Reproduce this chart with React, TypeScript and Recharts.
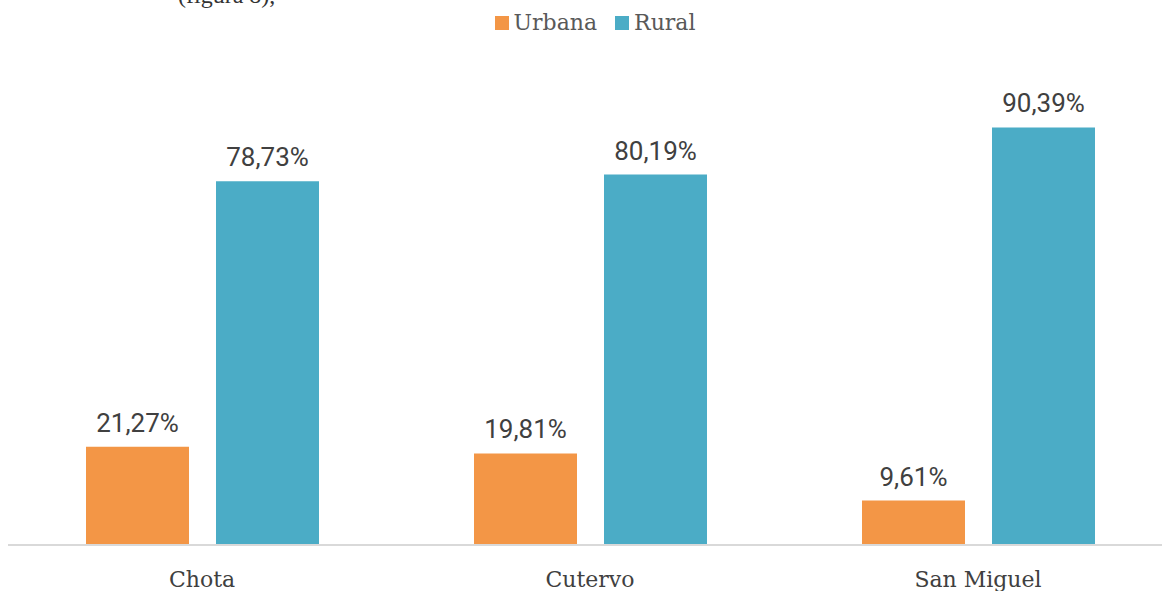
import { BarChart, Bar, XAxis, YAxis, LabelList } from "recharts";

const provinces = ["Chota", "Cutervo", "San Miguel"];
const urbana = [21.27, 19.81, 9.61];
const rural = [78.73, 80.19, 90.39];

const data = provinces.map((name, i) => ({ name, urbana: urbana[i], rural: rural[i] }));

const series = [
  { key: "urbana", name: "Urbana", color: "#F39646" },
  { key: "rural", name: "Rural", color: "#4BACC6" },
];

const fmt = (v: number) => v.toFixed(2).replace(".", ",") + "%";

const labelFont = "Roboto, 'DejaVu Sans', sans-serif";
const serif = "'DejaVu Serif', 'Liberation Serif', serif";

export default function App() {
  return (
    <div style={{ position: "relative", width: 1162, height: 591, overflow: "hidden", background: "#fff" }}>
      <style>{"body{margin:0}"}</style>
      {/* caption fragment cut off at the top, as in the source */}
      <div
        style={{
          position: "absolute",
          left: 178,
          top: -17,
          fontFamily: "'Liberation Serif', serif",
          fontSize: 24,
          lineHeight: "24px",
          color: "#333",
        }}
      >
        (figura 8),
      </div>
      <div
        style={{
          position: "absolute",
          top: 8,
          left: 0,
          width: 1190,
          display: "flex",
          justifyContent: "center",
          gap: 18,
          fontFamily: serif,
          fontSize: 22,
          lineHeight: "30px",
          color: "#595959",
        }}
      >
        {series.map((s) => (
          <div key={s.key} style={{ display: "flex", alignItems: "center" }}>
            <span style={{ width: 14, height: 14, background: s.color, marginRight: 5, display: "inline-block" }} />
            {s.name}
          </div>
        ))}
      </div>
      <BarChart
        width={1172}
        height={591}
        data={data}
        margin={{ top: 83, right: 0, left: 8, bottom: 0 }}
        barSize={103}
        barGap={27}
      >
        <XAxis
          dataKey="name"
          height={46}
          tickLine={false}
          axisLine={{ stroke: "#d9d9d9", strokeWidth: 2 }}
          tick={{ fill: "#404040", fontSize: 22, fontFamily: serif, dy: 18 }}
        />
        <YAxis domain={[0, 100]} hide />
        {series.map((s) => (
          <Bar key={s.key} dataKey={s.key} name={s.name} fill={s.color} isAnimationActive={false}>
            <LabelList
              dataKey={s.key}
              position="top"
              offset={15}
              formatter={(v: any) => fmt(Number(v))}
              style={{ fill: "#404040", fontSize: 26, fontFamily: labelFont }}
            />
          </Bar>
        ))}
      </BarChart>
    </div>
  );
}
